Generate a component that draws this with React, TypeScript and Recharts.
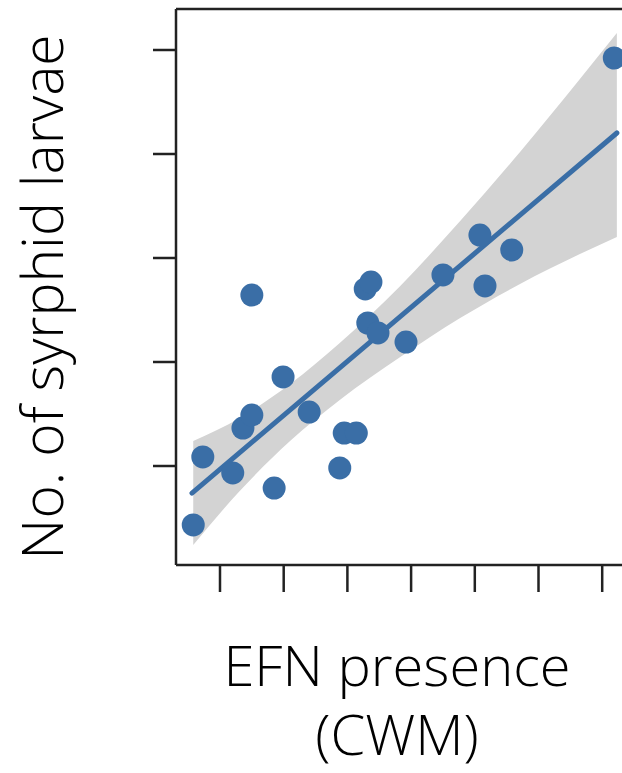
import React from 'react';
import { ComposedChart, XAxis, YAxis, Scatter, Line, Area, Label } from 'recharts';

// unlabeled tick positions (CWM proportion, larvae count)
const xTicks = [0, 0.1, 0.2, 0.3, 0.4, 0.5, 0.6];
const yTicks = [10, 20, 30, 40, 50];

// observed plots
const efnCwm = [
  -0.042, -0.027, 0.02, 0.036, 0.05, 0.05, 0.085, 0.099, 0.14, 0.188, 0.195,
  0.214, 0.228, 0.237, 0.232, 0.248, 0.292, 0.35, 0.408, 0.416, 0.458, 0.619,
];
const larvae = [
  4.33, 10.87, 9.33, 13.65, 14.9, 26.44, 7.88, 18.56, 15.19, 9.81, 13.17,
  13.17, 27.02, 27.69, 23.75, 22.79, 21.92, 28.37, 32.21, 27.31, 30.77, 49.23,
];

// fitted line end points
const fitX = [-0.044, 0.623];
const fitY = [7.4, 42.02];

// 95% confidence band
const bandX = [-0.042, 0.031, 0.11, 0.188, 0.283, 0.377, 0.471, 0.565, 0.623];
const bandLow = [2.4, 7.6, 12.4, 16.35, 20.48, 24.23, 27.5, 30.38, 32.02];
const bandHigh = [12.4, 14.62, 17.88, 21.83, 27.31, 33.56, 40.19, 47.21, 51.63];

const points = efnCwm.map((x, i) => ({ x, y: larvae[i] }));
const fit = fitX.map((x, i) => ({ x, y: fitY[i] }));
const band = bandX.map((x, i) => ({ x, y: [bandLow[i], bandHigh[i]] }));

const X_DOMAIN: [number, number] = [-0.06907, 0.65934];
const Y_DOMAIN: [number, number] = [0.4808, 53.942];

const BLUE = '#3a6ea6';
const AXIS = { stroke: '#222', strokeWidth: 2.5 };
const TITLE = {
  fontFamily: "'Open Sans', sans-serif",
  fontWeight: 300,
  fontSize: 56,
  fill: '#000',
};

const noLabel = () => <g />;

export default function App() {
  return (
    <div
      style={{
        position: 'fixed',
        left: 0,
        top: 0,
        width: 622,
        height: 773,
        overflow: 'hidden',
        background: '#fff',
      }}
    >
      <ComposedChart
        width={660}
        height={773}
        margin={{ top: 8, right: 20, bottom: 207, left: 175 }}
      >
        <XAxis
          type="number"
          dataKey="x"
          domain={X_DOMAIN}
          ticks={xTicks}
          allowDataOverflow
          height={1}
          tickSize={27}
          axisLine={AXIS}
          tickLine={AXIS}
          tick={noLabel}
        >
          <Label
            content={() => (
              <g>
                <text x={397} y={686} textAnchor="middle" {...TITLE}>
                  EFN presence
                </text>
                <text x={397} y={755} textAnchor="middle" {...TITLE}>
                  (CWM)
                </text>
              </g>
            )}
          />
        </XAxis>
        <XAxis
          xAxisId="top"
          orientation="top"
          type="number"
          domain={X_DOMAIN}
          allowDataOverflow
          height={1}
          axisLine={AXIS}
          tickLine={false}
          tick={noLabel}
        />
        <YAxis
          type="number"
          dataKey="y"
          domain={Y_DOMAIN}
          ticks={yTicks}
          allowDataOverflow
          width={1}
          tickSize={23}
          axisLine={AXIS}
          tickLine={AXIS}
          tick={noLabel}
        >
          <Label
            content={() => (
              <text
                x={63}
                y={297}
                transform="rotate(-90 63 297)"
                textAnchor="middle"
                {...TITLE}
                fontSize={57}
              >
                No. of syrphid larvae
              </text>
            )}
          />
        </YAxis>
        <Area
          data={band}
          dataKey="y"
          type="monotone"
          fill="#d3d3d3"
          fillOpacity={1}
          stroke="none"
          isAnimationActive={false}
        />
        <Line
          data={fit}
          dataKey="y"
          type="linear"
          stroke={BLUE}
          strokeWidth={5}
          strokeLinecap="round"
          dot={false}
          isAnimationActive={false}
        />
        <Scatter
          data={points}
          dataKey="y"
          fill={BLUE}
          isAnimationActive={false}
          shape={(p: any) => <circle cx={p.cx} cy={p.cy} r={11.5} fill={BLUE} />}
        />
      </ComposedChart>
    </div>
  );
}
